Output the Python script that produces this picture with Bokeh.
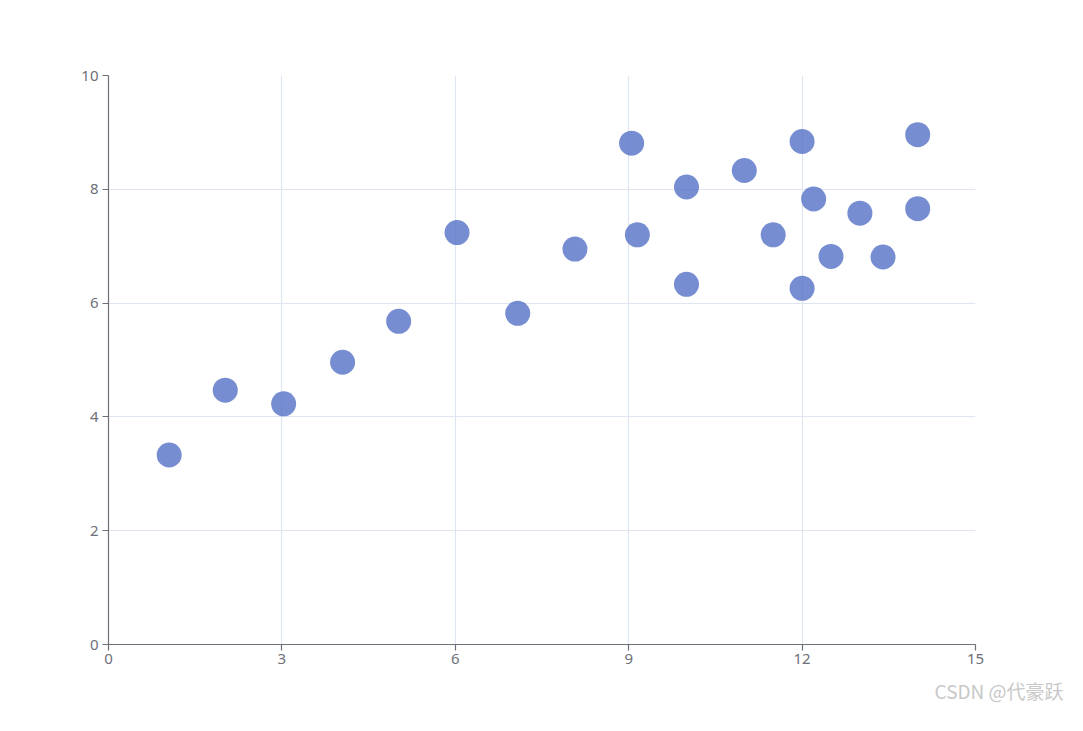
from bokeh.plotting import figure
from bokeh.models import FixedTicker, Title, ColumnDataSource, Range1d
from bokeh.embed import file_html
from bokeh.resources import INLINE

x_vals = [10.0, 8.07, 13.0, 9.05, 11.0, 14.0, 13.4, 10.0, 14.0, 12.5, 9.15,
          11.5, 3.03, 12.2, 2.02, 1.05, 4.05, 6.03, 12.0, 12.0, 7.08, 5.02]
y_vals = [8.04, 6.95, 7.58, 8.81, 8.33, 7.66, 6.81, 6.33, 8.96, 6.82, 7.2,
          7.2, 4.23, 7.83, 4.47, 3.33, 4.96, 7.24, 6.26, 8.84, 5.82, 5.68]
x_ticks = [0, 3, 6, 9, 12, 15]
y_ticks = [0, 2, 4, 6, 8, 10]
watermark = "CSDN @代豪跃"

W, H = 1067, 715
p = figure(width=W, height=H, output_backend="svg", toolbar_location=None,
           x_range=Range1d(0, 15), y_range=Range1d(0, 10),
           min_border_left=108, min_border_right=W - 975,
           min_border_top=75, min_border_bottom=H - 644)
p.outline_line_color = None
p.background_fill_color = "white"
p.border_fill_color = "white"

src = ColumnDataSource(dict(x=x_vals, y=y_vals))
p.scatter("x", "y", source=src, size=25, fill_color="#5470c6",
          fill_alpha=0.8, line_color=None)

axis_col = "#6E7079"
for ax in (p.xaxis[0], p.yaxis[0]):
    ax.axis_line_color = axis_col
    ax.axis_line_width = 1.2
    ax.major_tick_line_color = axis_col
    ax.major_tick_line_width = 1.2
    ax.major_tick_out = 6
    ax.major_tick_in = 0
    ax.minor_tick_line_color = None
    ax.major_label_text_color = axis_col
    ax.major_label_text_font = "Noto Sans"
    ax.major_label_text_font_size = "15px"
p.xaxis[0].ticker = FixedTicker(ticks=x_ticks)
p.yaxis[0].ticker = FixedTicker(ticks=y_ticks)
p.xaxis[0].major_label_standoff = 3
p.yaxis[0].major_label_standoff = 4

for g in (p.xgrid[0], p.ygrid[0]):
    g.grid_line_color = "#E0E6F1"
    g.grid_line_width = 1.2
p.xgrid[0].ticker = FixedTicker(ticks=x_ticks)
p.ygrid[0].ticker = FixedTicker(ticks=y_ticks)

wm = Title(text=watermark, align="right", text_color="#c8c8c8",
           text_font_size="19px", text_font="Noto Sans CJK SC",
           text_font_style="normal", offset=-88, standoff=17,
           vertical_align="bottom")
p.add_layout(wm, "below")

open("out.html", "w").write(file_html(p, INLINE))
